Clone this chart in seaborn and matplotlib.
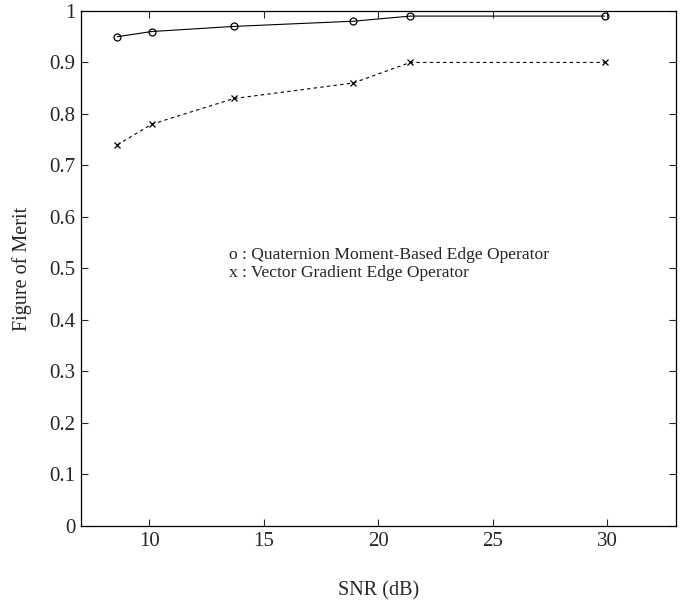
import numpy as np
import pandas as pd
from matplotlib import pyplot as plt
import seaborn as sns

# SNR values (dB) and figure of merit for both operators
snr = [8.6, 10.1, 13.7, 18.9, 21.4, 29.9]
fom_quaternion = [0.95, 0.96, 0.97, 0.98, 0.99, 0.99]
fom_vector = [0.74, 0.78, 0.83, 0.86, 0.90, 0.90]

x_ticks = [10, 15, 20, 25, 30]
y_ticks = [0, 0.1, 0.2, 0.3, 0.4, 0.5, 0.6, 0.7, 0.8, 0.9, 1]
y_tick_labels = ['0', '0.1', '0.2', '0.3', '0.4', '0.5', '0.6', '0.7', '0.8', '0.9', '1']


def main():
    sns.set_style('ticks')
    plt.rcParams['font.family'] = ['Liberation Serif', 'DejaVu Serif']

    fig = plt.figure(figsize=(6.87, 6.01), dpi=100)
    ax = fig.add_axes([0.1175, 0.1248, 0.866, 0.857])

    df = pd.DataFrame({'snr': snr, 'q': fom_quaternion, 'v': fom_vector})

    sns.lineplot(data=df, x='snr', y='q', ax=ax, color='black', linewidth=0.8,
                 marker='o', markersize=5, markerfacecolor='none',
                 markeredgecolor='black', markeredgewidth=0.9)
    sns.lineplot(data=df, x='snr', y='v', ax=ax, color='black', linewidth=0.8,
                 linestyle=(0, (3, 3)), marker='x', markersize=5,
                 markeredgecolor='black', markeredgewidth=0.9)

    ax.set_xlim(7, 33)
    ax.set_ylim(0, 1)
    ax.set_xticks(x_ticks)
    ax.set_xticklabels([str(t) for t in x_ticks])
    ax.set_yticks(y_ticks)
    ax.set_yticklabels(y_tick_labels)
    ax.tick_params(direction='in', length=5, width=0.8, top=True, right=True,
                   labelsize=15, pad=4)
    for s in ax.spines.values():
        s.set_linewidth(0.9)
        s.set_color('black')

    ax.set_xlabel('SNR (dB)', fontsize=14.5, labelpad=22)
    ax.set_ylabel('Figure of Merit', fontsize=14.5, labelpad=12)

    ax.text(13.5, 0.527, 'o : Quaternion Moment-Based Edge Operator',
            fontsize=12.6, va='center', ha='left')
    ax.text(13.5, 0.492, 'x : Vector Gradient Edge Operator',
            fontsize=12.6, va='center', ha='left')

    fig.savefig('out.png', dpi=100)


if __name__ == '__main__':
    main()
